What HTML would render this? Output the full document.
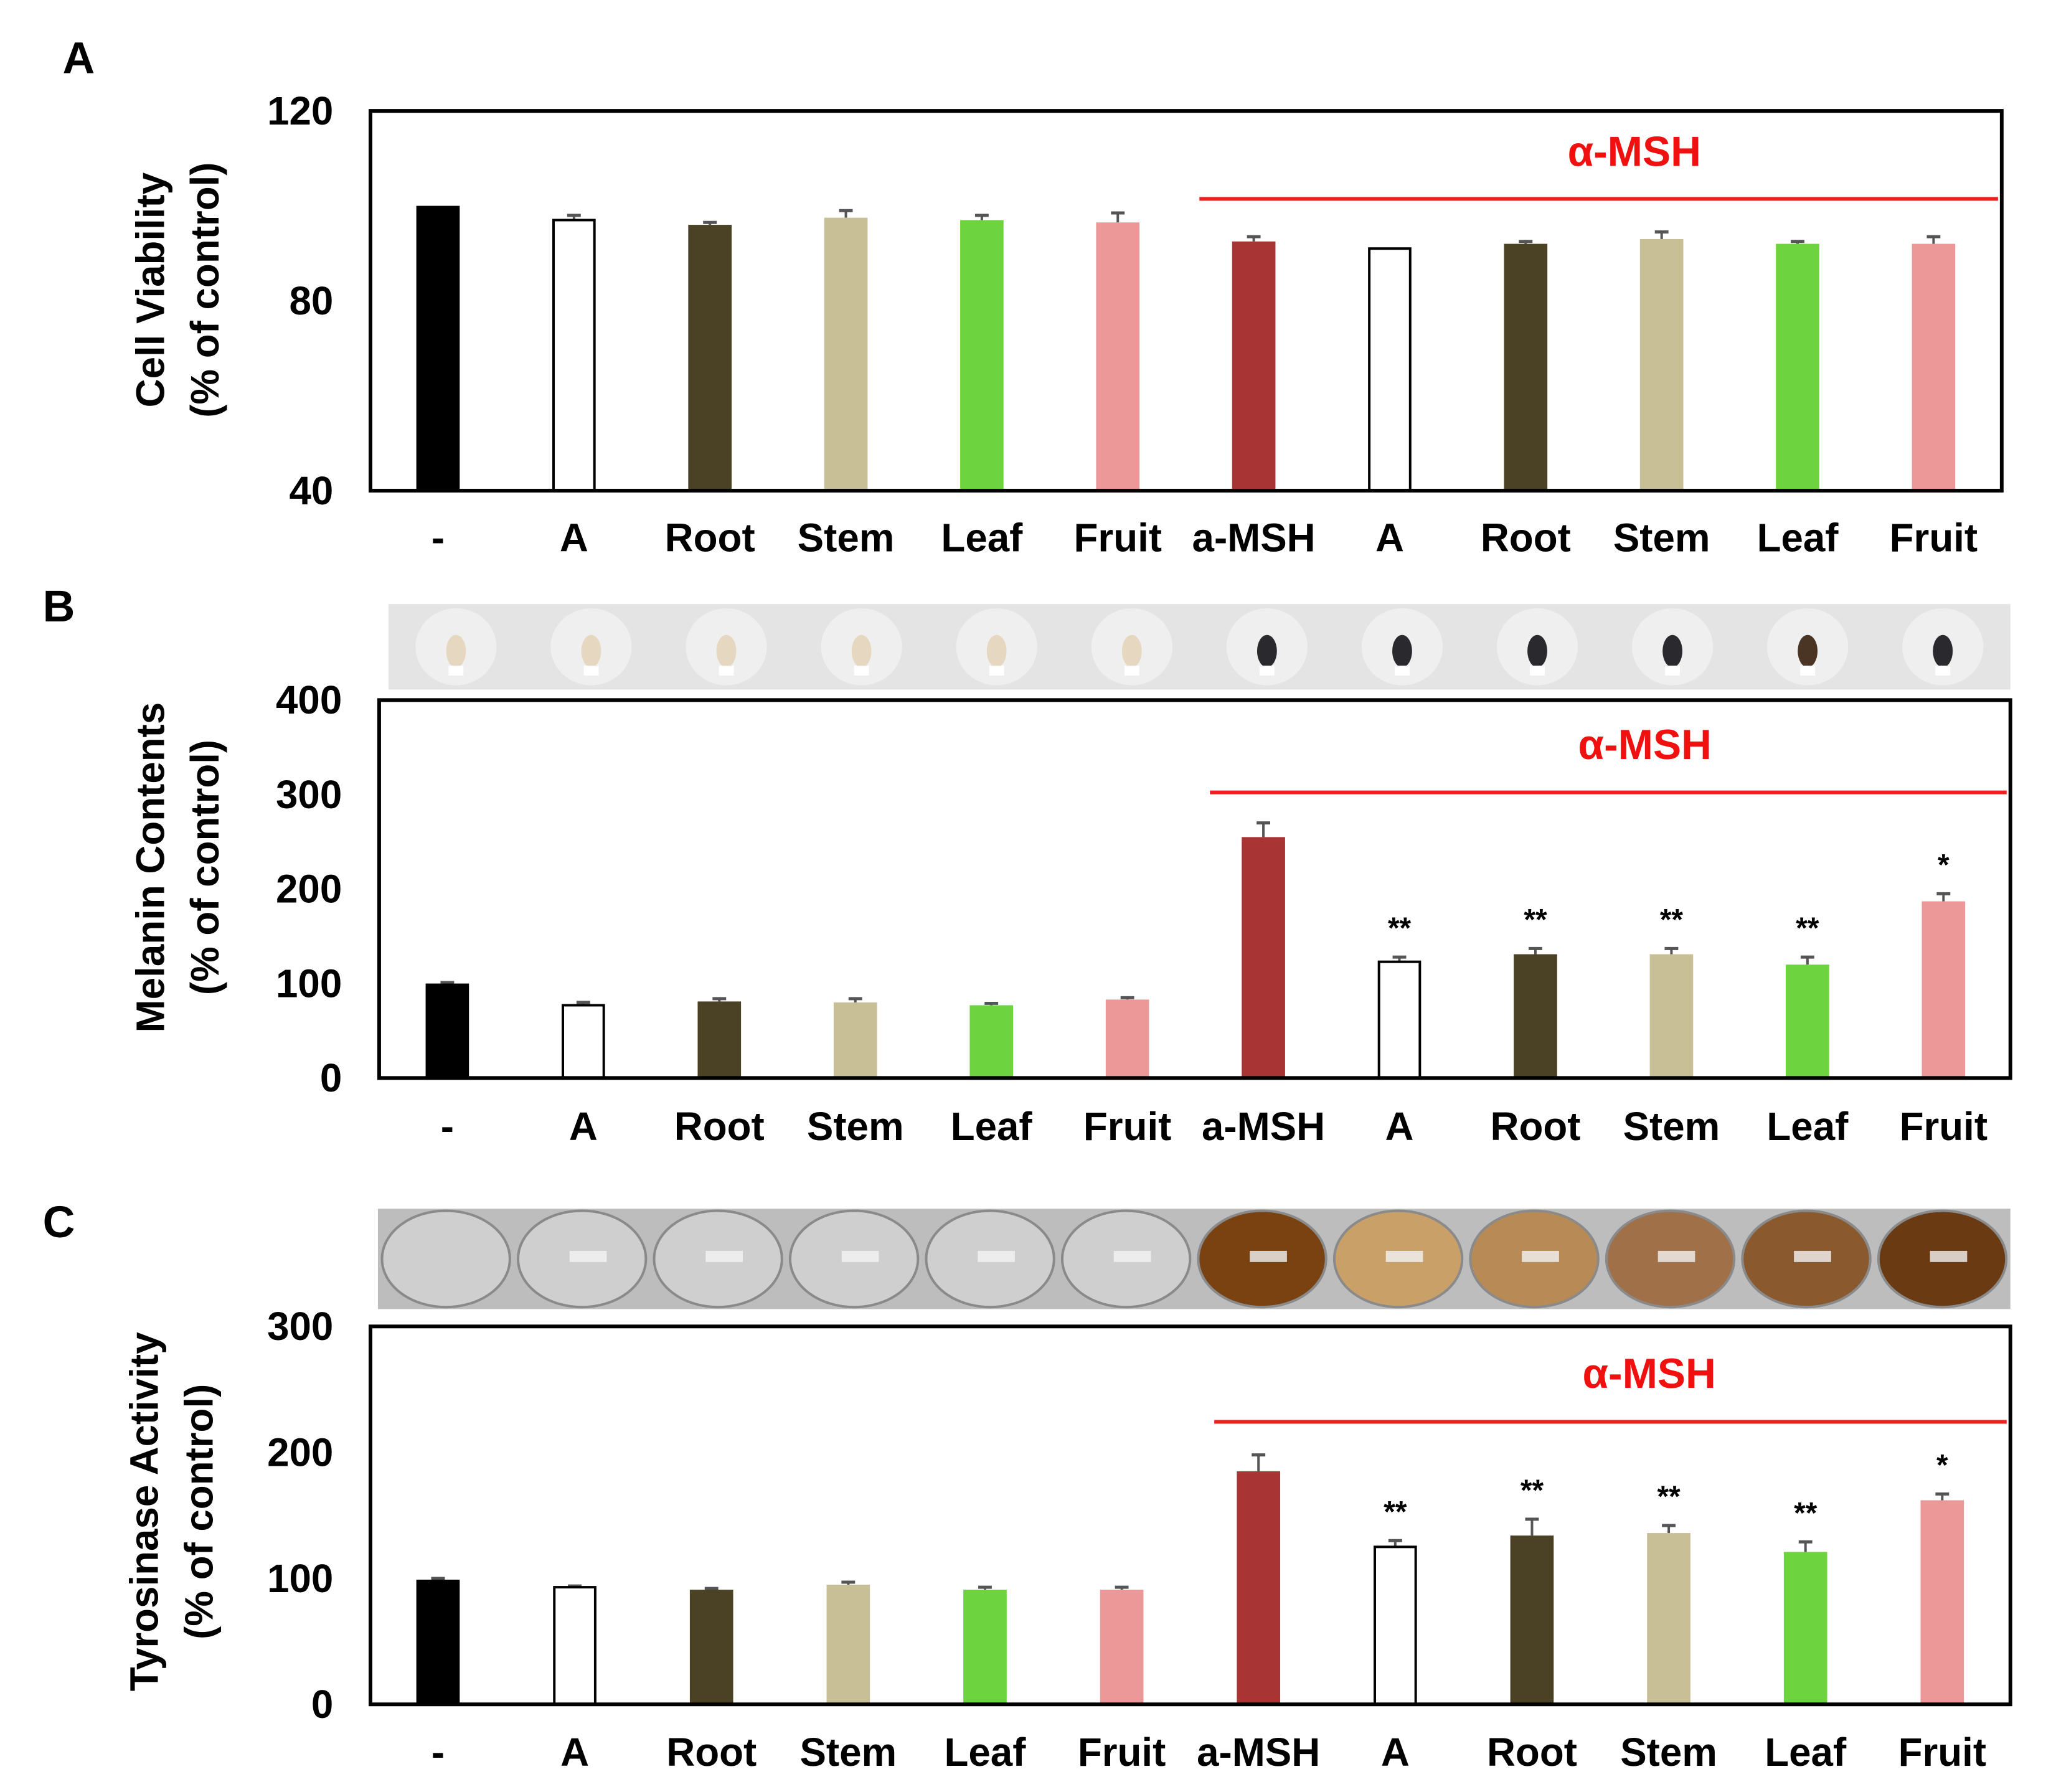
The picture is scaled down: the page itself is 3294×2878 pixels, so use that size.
<!DOCTYPE html>
<html><head><meta charset="utf-8"><style>
html,body{margin:0;padding:0;background:#fff;}
svg{display:block;font-family:"Liberation Sans",Arial,sans-serif;font-weight:bold;}
</style></head><body>
<svg id="fig" xmlns="http://www.w3.org/2000/svg" width="3294" height="2878" viewBox="0 0 3294 2878"><g id="root" transform="scale(0.995)"></g></svg>
<script>
const categories = ["-","A","Root","Stem","Leaf","Fruit","a-MSH","A","Root","Stem","Leaf","Fruit"];
const barColors = ["#000000","#ffffff","#4b4125","#c9bf97","#6dd43f","#ec9898","#a93434","#ffffff","#4b4125","#c9bf97","#6dd43f","#ec9898"];
const viabilityValues = [100,97,96,97.5,97,96.5,92.5,91,92,93,92,92];
const viabilityErrors = [0,1,0.5,1.5,1,2,1,0,0.5,1.5,0.5,1.5];
const viabilityTicks = [40,80,120];
const melaninValues = [100,77,81,80,77,83,255,123,131,131,120,187];
const melaninErrors = [1,3,3,4,2,2,15,5,6,6,8,8];
const melaninStars = ["","","","","","","","**","**","**","**","*"];
const melaninTicks = [0,100,200,300,400];
const tyrosinaseValues = [99,93,91,95,91,91,185,125,134,136,121,162];
const tyrosinaseErrors = [1,1,1,2,2,2,13,5,13,6,8,5];
const tyrosinaseStars = ["","","","","","","","**","**","**","**","*"];
const tyrosinaseTicks = [0,100,200,300];

const NS="http://www.w3.org/2000/svg";
const svg=document.getElementById('root');
function mk(tag,attrs,parent,text){const e=document.createElementNS(NS,tag);for(const k in attrs)e.setAttribute(k,attrs[k]);if(text!==undefined)e.textContent=text;(parent||svg).appendChild(e);return e;}

function panel(cfg){
  const g=mk('g',{});
  
  
  const y=v=>cfg.bottom-(v-cfg.min)/(cfg.max-cfg.min)*(cfg.bottom-cfg.top);
  const n=categories.length;
  const step=(cfg.lastX-cfg.firstX)/(n-1);
  const x=i=>cfg.firstX+i*step;
  const bw=70;
  const L=mk('text',{x:cfg.letterX,y:cfg.letterY,'font-size':72,'text-anchor':'middle'},g,cfg.letter);
  
  
  for(let i=0;i<n;i++){
    const v=cfg.values[i], e=cfg.errors[i];
    const top=y(v);
    if(e>0){
      const eb=mk('line',{x1:x(i),x2:x(i),y1:top,y2:y(v+e),stroke:'#555','stroke-width':4},g);
      
      
      mk('line',{x1:x(i)-11,x2:x(i)+11,y1:y(v+e),y2:y(v+e),stroke:'#555','stroke-width':5},g);
    }
    const white=barColors[i]==='#ffffff';
    const r=mk('rect',{x:x(i)-bw/2+(white?2:0),y:top,width:bw-(white?4:0),height:cfg.bottom-top,fill:barColors[i],stroke:white?'#000':'none','stroke-width':white?4:0},g);
    
    
    if(cfg.stars&&cfg.stars[i]){
      const s=mk('text',{x:x(i),y:y(v+e)-30,'font-size':48,'text-anchor':'middle'},g,cfg.stars[i]);
      
      
    }
    const t=mk('text',{x:x(i),y:cfg.labelY,'font-size':64,'text-anchor':'middle'},g,categories[i]);
    
    
  }
  const box=mk('rect',{x:cfg.left,y:cfg.top,width:cfg.right-cfg.left,height:cfg.bottom-cfg.top,fill:'none',stroke:'#000','stroke-width':6},g);
  
  
  cfg.ticks.forEach(tv=>{
    const t=mk('text',{x:cfg.left-60,y:y(tv)+22,'font-size':64,'text-anchor':'end'},g,String(tv));
    
    
  });
  const ml=mk('line',{x1:cfg.mshX1,x2:cfg.right-6,y1:cfg.mshLineY,y2:cfg.mshLineY,stroke:'#f02020','stroke-width':6},g);
  
  
  const mt=mk('text',{x:cfg.mshTextX,y:cfg.mshTextY,'font-size':68,'text-anchor':'middle',fill:'#f01010'},g,'α-MSH');
  
  
  const yt=mk('text',{transform:`translate(${cfg.titleX},${cfg.titleY}) rotate(-90)`,'font-size':64,'text-anchor':'middle'},g);
  
  
  mk('tspan',{x:0,y:0},yt,cfg.title);
  mk('tspan',{x:0,y:88},yt,'(% of control)');
}

function photo(name,x0,y0,x1,y1,kind){
  const g=mk('g',{});
  
  
  const w=x1-x0,h=y1-y0;
  mk('rect',{x:x0,y:y0,width:w,height:h,fill:kind==='tube'?'#e4e4e4':'#bdbdbd'},g);
  const step=w/12;
  for(let i=0;i<12;i++){
    const cx=x0+step*(i+0.5);
    if(kind==='tube'){
      mk('ellipse',{cx:cx,cy:y0+h*0.5,rx:step*0.3,ry:h*0.45,fill:'#efefef'},g);
      mk('ellipse',{cx:cx,cy:y0+h*0.55,rx:16,ry:26,fill:i<6?'#e6d8c0':(i===10?'#4a3424':'#2a2a2e')},g);
      mk('rect',{x:cx-12,y:y0+h*0.72,width:24,height:16,fill:'#fff'},g);
    } else {
      const fill=i<6?'#cfcfcf':['#7a4210','#c8a068','#b88a55','#a07048','#8a5a2e','#6a3a12'][i-6];
      mk('ellipse',{cx:cx,cy:y0+h/2,rx:step*0.47,ry:h*0.48,fill:fill,stroke:'#8a8a8a','stroke-width':4},g);
      mk('rect',{x:cx-20,y:y0+h*0.42,width:60,height:18,fill:i===0?'none':'#f4f4f4',opacity:0.8},g);
    }
  }
}

panel({name:'panel-a-cell-viability',letter:'A',letterX:127,letterY:118,left:598,right:3231,top:179,bottom:792,min:40,max:120,
  firstX:707,lastX:3121,values:viabilityValues,errors:viabilityErrors,stars:null,ticks:viabilityTicks,labelY:890,
  mshX1:1936,mshLineY:321,mshTextX:2638,mshTextY:268,title:'Cell Viability',titleX:265,titleY:468});
photo('melanin-tube-photo',627,975,3245,1113,'tube');
panel({name:'panel-b-melanin',letter:'B',letterX:95,letterY:1003,left:612,right:3245,top:1130,bottom:1740,min:0,max:400,
  firstX:722,lastX:3137,values:melaninValues,errors:melaninErrors,stars:melaninStars,ticks:melaninTicks,labelY:1840,
  mshX1:1953,mshLineY:1279,mshTextX:2655,mshTextY:1225,title:'Melanin Contents',titleX:265,titleY:1400});
photo('tyrosinase-well-photo',610,1951,3245,2113,'well');
panel({name:'panel-c-tyrosinase',letter:'C',letterX:95,letterY:1997,left:598,right:3245,top:2141,bottom:2751,min:0,max:300,
  firstX:707,lastX:3135,values:tyrosinaseValues,errors:tyrosinaseErrors,stars:tyrosinaseStars,ticks:tyrosinaseTicks,labelY:2850,
  mshX1:1960,mshLineY:2295,mshTextX:2662,mshTextY:2240,title:'Tyrosinase Activity',titleX:255,titleY:2440});
</script>
</body></html>
